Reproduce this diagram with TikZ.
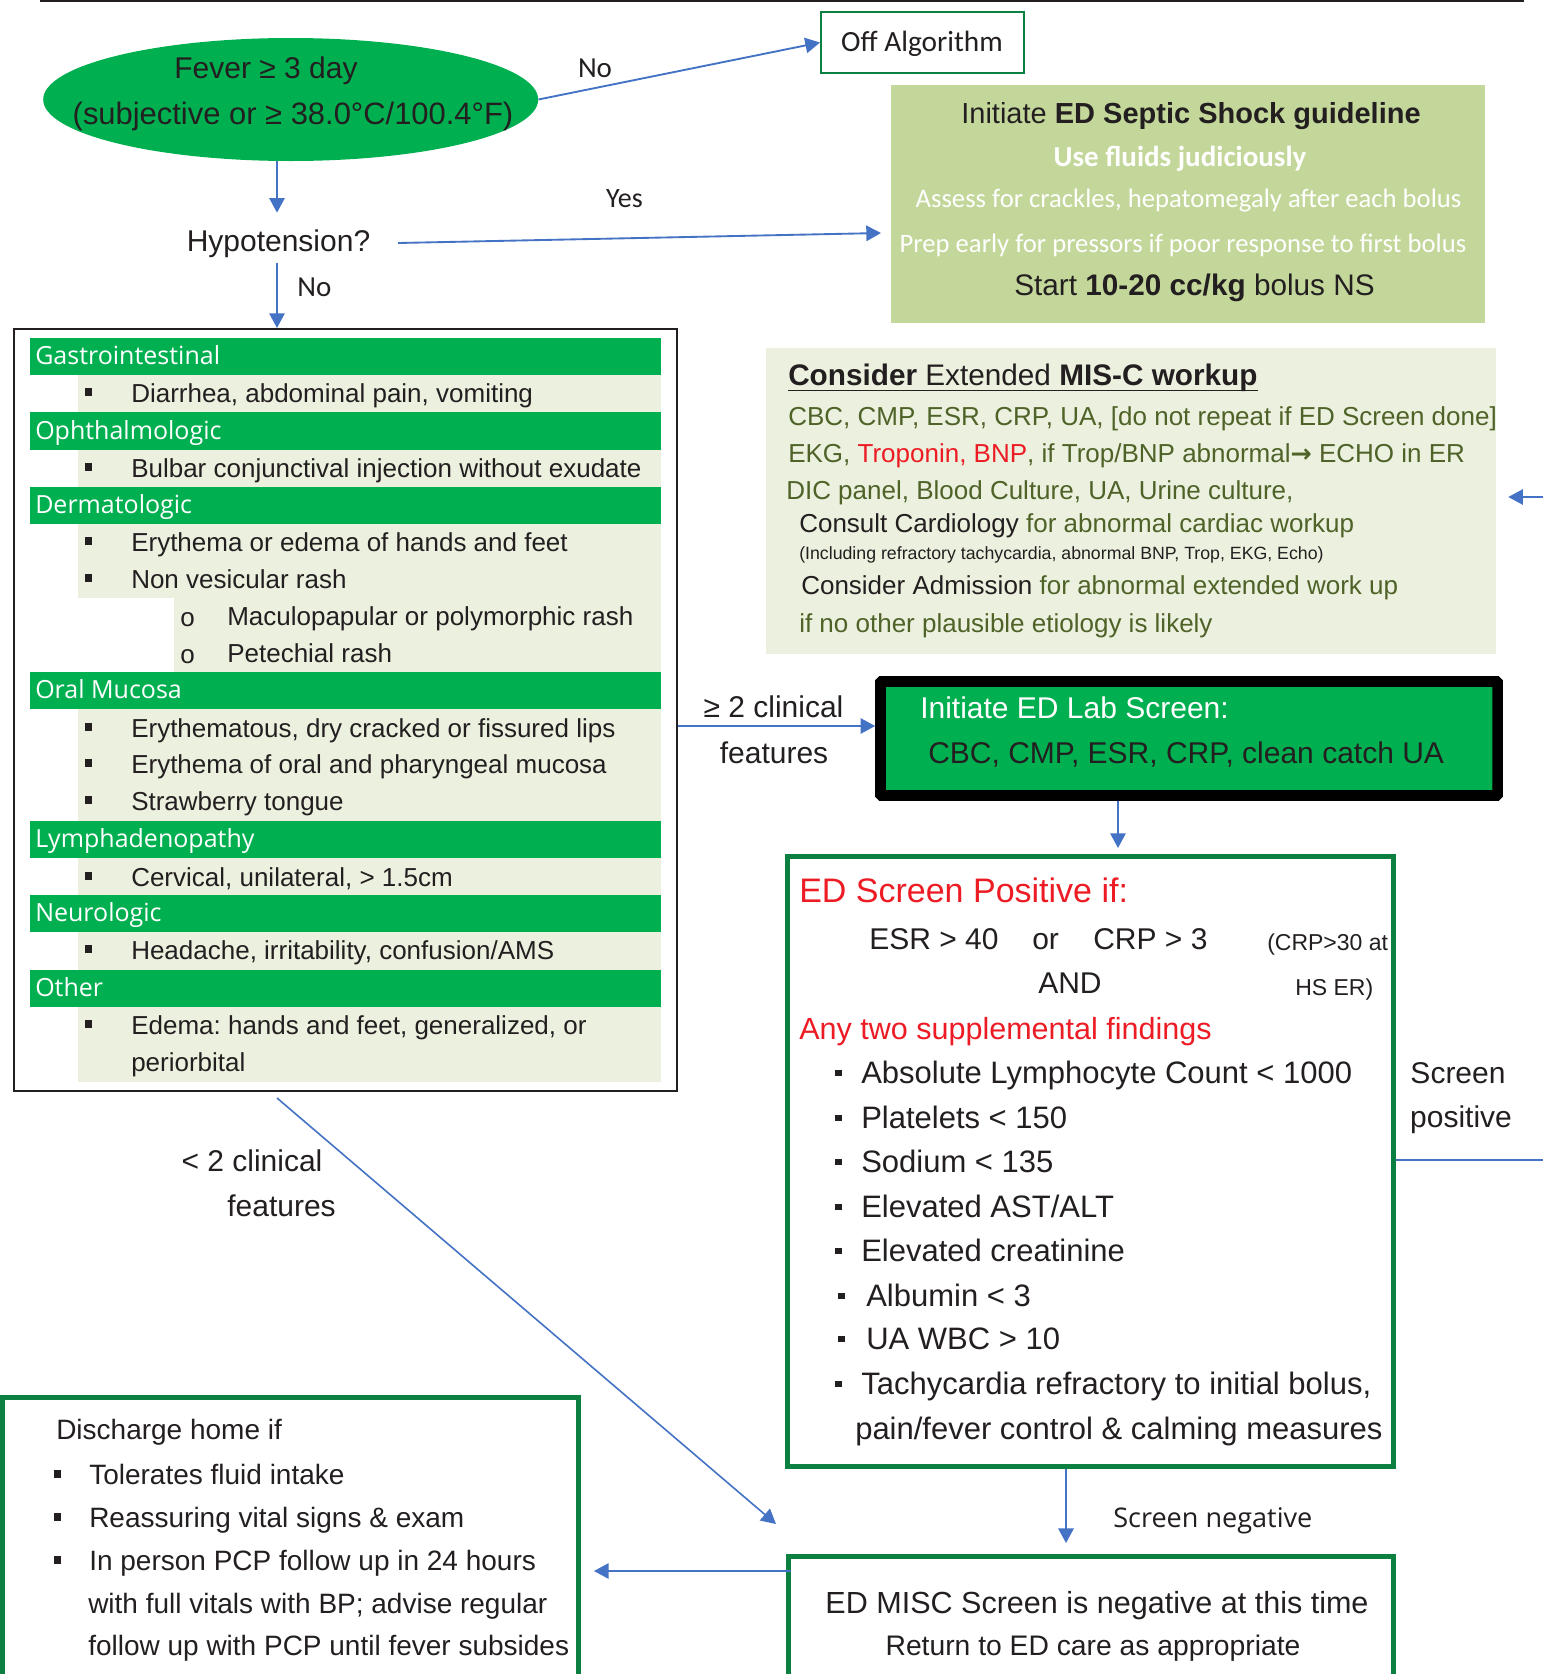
\documentclass[tikz,border=0pt]{standalone}
\usepackage{fontspec}
\setmainfont{Liberation Sans}
\newfontfamily\carl{Carlito}
\newfontfamily\osans{Open Sans}
\newfontfamily\djv{DejaVu Sans}
\usetikzlibrary{shapes.geometric,fit,arrows.meta,calc}
\frenchspacing

\definecolor{ink}{HTML}{231F20}
\definecolor{grn}{HTML}{00B050}
\definecolor{dgrn}{HTML}{0B8040}
\definecolor{sept}{HTML}{C4D79B}
\definecolor{pale}{HTML}{EBF1DE}
\definecolor{olive}{HTML}{4F6228}
\definecolor{redt}{HTML}{ED1C24}
\definecolor{blu}{HTML}{4472C4}

\begin{document}
\begin{tikzpicture}[x=0.75pt,y=-0.75pt,
  every node/.style={inner sep=0pt, text depth=0pt, text=ink},
  L/.style={anchor=west},
  t30/.style={font=\fontsize{22.5}{27}\selectfont, text height=16.1pt},
  t29/.style={font=\fontsize{21.75}{26}\selectfont, text height=15.6pt},
  t28/.style={font=\fontsize{21}{25}\selectfont, text height=15pt},
  t26/.style={font=\fontsize{19.5}{23}\selectfont, text height=14pt},
  t31/.style={font=\fontsize{23.25}{28}\selectfont, text height=16.6pt},
  t34/.style={font=\fontsize{25.5}{30}\selectfont, text height=18.3pt},
  t23/.style={font=\fontsize{17.25}{21}\selectfont, text height=12.4pt},
  t18/.style={font=\fontsize{13.3}{16}\selectfont, text height=9.5pt},
  c22/.style={font=\carl\fontsize{22}{26}\selectfont, text height=14.2pt},
  c29/.style={font=\carl\fontsize{21.75}{26}\selectfont, text height=14pt},
  c28/.style={font=\carl\fontsize{21}{25}\selectfont, text height=13.5pt},
  c22b/.style={font=\carl\bfseries\fontsize{21.75}{26}\selectfont, text height=14pt},
  c20/.style={font=\carl\fontsize{20}{24}\selectfont, text height=12.9pt},
  o19/.style={font=\osans\fontsize{18.75}{22}\selectfont, text height=13.4pt},
  o20/.style={font=\osans\fontsize{20.3}{24}\selectfont, text height=14.5pt},
  hdr/.style={o19, L, text=white},
  item/.style={t26, L},
  sq/.style={fill=ink, minimum size=5.3pt},
  sqs/.style={fill=ink, minimum size=4.8pt},
  arr/.style={draw=blu, line width=1.4pt, -{Triangle[length=11pt,width=11.5pt]}},
  link/.style={draw=blu, line width=1.4pt},
  greenbox/.style={draw=dgrn, line width=3.75pt},
]
\useasboundingbox (0,0) rectangle (1543,1674);
\fill[white] (0,0) rectangle (1543,1674);

% top rule
\draw[ink, line width=2pt] (40,1) -- (1524,1);

% ---------- fever / hypotension ----------
\node[ellipse, fill=grn, minimum width=371.25pt, minimum height=92.25pt] (fever) at (290.7,99.5) {};
\node[t30] (fever1) at (266,68) {Fever ≥ 3 day};
\node[font=\fontsize{23.2}{28}\selectfont, text height=16.6pt] (fever2) at (293,113) {(subjective or ≥ 38.0°C/100.4°F)};

\node[draw=dgrn, line width=1.5pt, fit={(821,12) (1024,73)}] (off) {};
\node[c22] (offT) at (922,42) {Off Algorithm};

\node[t30] (hypo) at (278.5,241) {Hypotension?};

\node[c29] (noTop) at (595,68) {No};
\node[c28] (yesLbl) at (624.5,198) {Yes};
\node[c29] (noBot) at (314.5,287) {No};

% ---------- septic shock ----------
\node[fill=sept, fit={(891,85) (1485,323)}] (septic) {};
\node[t29] (sep1) at (1191,113) {Initiate \textbf{ED Septic Shock guideline}};
\node[c22b, text=white] (sep2) at (1180,157) {Use fluids judiciously};
\node[c20, text=white] (sep3) at (1188.5,199) {Assess for crackles, hepatomegaly after each bolus};
\node[c20, text=white] (sep4) at (1183,244) {Prep early for pressors if poor response to first bolus};
\node[font=\fontsize{22.3}{27}\selectfont, text height=16pt] (sep5) at (1194.5,285) {Start \textbf{10-20 cc/kg} bolus NS};

% ---------- extended MIS-C workup ----------
\node[fill=pale, fit={(766,348) (1496,654)}] (misc) {};
\node[font=\fontsize{22.3}{27}\selectfont, text height=16pt, L] (mh) at (788,375)
  {\textbf{Consider} Extended \textbf{MIS-C workup}};
\draw[ink, line width=1.3pt] ([yshift=-3.7pt]mh.base west) -- ([yshift=-3.7pt]mh.base east);
\node[t26, L, text=olive] (m1) at (788,416) {CBC, CMP, ESR, CRP, UA, [do not repeat if ED Screen done]};
\node[t26, L, text=olive] (m2) at (788,453) {EKG, {\color{redt}Troponin, BNP}, if Trop/BNP abnormal{\djv\fontsize{19}{23}\selectfont\bfseries →} ECHO in ER};
\node[t26, L, text=olive] (m3) at (786,490) {DIC panel, Blood Culture, UA, Urine culture,};
\node[t26, L, text=olive] (m4) at (799,523) {{\color{ink}Consult Cardiology} for abnormal cardiac workup};
\node[t18, L] (m5) at (799,553) {(Including refractory tachycardia, abnormal BNP, Trop, EKG, Echo)};
\node[t26, L, text=olive] (m6) at (801,585) {{\color{ink}Consider Admission} for abnormal extended work up};
\node[t26, L, text=olive] (m7) at (799,623) {if no other plausible etiology is likely};

% ---------- clinical features ----------
\fill[grn]  (30,338)  rectangle (661,375);
\fill[pale] (78,375)  rectangle (661,412);
\fill[grn]  (30,412)  rectangle (661,450);
\fill[pale] (78,450)  rectangle (661,487);
\fill[grn]  (30,487)  rectangle (661,524);
\fill[pale] (78,524)  rectangle (661,598);
\fill[pale] (174,598) rectangle (661,672);
\fill[grn]  (30,672)  rectangle (661,709);
\fill[pale] (78,709)  rectangle (661,821);
\fill[grn]  (30,821)  rectangle (661,858);
\fill[pale] (78,858)  rectangle (661,895);
\fill[grn]  (30,895)  rectangle (661,932);
\fill[pale] (78,932)  rectangle (661,970);
\fill[grn]  (30,970)  rectangle (661,1007);
\fill[pale] (78,1007) rectangle (661,1082);
\node[draw=ink, line width=1.5pt, fit={(14,329) (677,1091)}] (crit) {};

\node[hdr] (hGI) at (35,356) {Gastrointestinal};
\node[sq] (bGI) at (88.5,392) {};
\node[item] (iGI) at (131,393) {Diarrhea, abdominal pain, vomiting};

\node[hdr] (hOph) at (35,431) {Ophthalmologic};
\node[sq] (bOph) at (88.5,467) {};
\node[item] (iOph) at (131,468) {Bulbar conjunctival injection without exudate};

\node[hdr] (hDer) at (35,505) {Dermatologic};
\node[sq] (bDer1) at (88.5,541) {};
\node[item] (iDer1) at (131,542) {Erythema or edema of hands and feet};
\node[sq] (bDer2) at (88.5,578) {};
\node[item] (iDer2) at (131,579) {Non vesicular rash};
\node[item] (oDer3) at (180,617) {o};
\node[item] (iDer3) at (227,616) {Maculopapular or polymorphic rash};
\node[item] (oDer4) at (180,654) {o};
\node[item] (iDer4) at (227,653) {Petechial rash};

\node[hdr] (hOra) at (35,690) {Oral Mucosa};
\node[sq] (bOra1) at (88.5,727) {};
\node[item] (iOra1) at (131,728) {Erythematous, dry cracked or fissured lips};
\node[sq] (bOra2) at (88.5,763) {};
\node[item] (iOra2) at (131,764) {Erythema of oral and pharyngeal mucosa};
\node[sq] (bOra3) at (88.5,800) {};
\node[item] (iOra3) at (131,801) {Strawberry tongue};

\node[hdr] (hLym) at (35,839) {Lymphadenopathy};
\node[sq] (bLym) at (88.5,876) {};
\node[item] (iLym) at (131,877) {Cervical, unilateral, > 1.5cm};

\node[hdr] (hNeu) at (35,913) {Neurologic};
\node[sq] (bNeu) at (88.5,949) {};
\node[item] (iNeu) at (131,950) {Headache, irritability, confusion/AMS};

\node[hdr] (hOth) at (35,988) {Other};
\node[sq] (bOth) at (88.5,1024) {};
\node[item] (iOth1) at (131,1025) {Edema: hands and feet, generalized, or};
\node[item] (iOth2) at (131,1062) {periorbital};

% ---------- lab screen ----------
\node[draw=black, line width=7.9pt, fill=grn, rounded corners=0.6pt, fit={(880.5,681.5) (1497.5,795.5)}] (lab) {};
\node[t30, L, text=white] (lab1) at (920,708) {Initiate ED Lab Screen:};
\node[t30, L] (lab2) at (928,753) {CBC, CMP, ESR, CRP, clean catch UA};

\node[t30] (ge1) at (773.5,707) {≥ 2 clinical};
\node[t30] (ge2) at (774,753) {features};

% ---------- screen positive criteria ----------
\node[greenbox, fit={(787.5,856.5) (1393.5,1466.5)}] (pos) {};
\node[t34, L, text=redt] (posH) at (799,890) {ED Screen Positive if:};
\node[t30, L] (esr) at (869,939) {ESR > 40};
\node[t30, L] (orT) at (1032,939) {or};
\node[t30, L] (crp) at (1093,939) {CRP > 3};
\node[t23, L] (crp30) at (1267,942) {(CRP>30 at};
\node[t30, L] (andT) at (1038,983) {AND};
\node[t23, L] (hser) at (1295,987) {HS ER)};
\node[font=\fontsize{22.9}{27}\selectfont, text height=16.4pt, L, text=redt] (anyTwo) at (799,1029) {Any two supplemental findings};
\node[sqs] (p1b) at (838.5,1073) {};
\node[t31, L] (p1) at (861,1072) {Absolute Lymphocyte Count < 1000};
\node[sqs] (p2b) at (838.5,1118) {};
\node[t31, L] (p2) at (861,1117) {Platelets < 150};
\node[sqs] (p3b) at (838.5,1162) {};
\node[t31, L] (p3) at (861,1161) {Sodium < 135};
\node[sqs] (p4b) at (838.5,1207) {};
\node[t31, L] (p4) at (861,1206) {Elevated AST/ALT};
\node[sqs] (p5b) at (838.5,1251) {};
\node[t31, L] (p5) at (861,1250) {Elevated creatinine};
\node[sqs] (p6b) at (841.5,1296) {};
\node[t31, L] (p6) at (866,1295) {Albumin < 3};
\node[sqs] (p7b) at (841.5,1339) {};
\node[t31, L] (p7) at (866,1338) {UA WBC > 10};
\node[sqs] (p8b) at (838.5,1384) {};
\node[t31, L] (p8) at (861,1383) {Tachycardia refractory to initial bolus,};
\node[t31, L] (p9) at (855,1428) {pain/fever control \& calming measures};

\node[t30] (sp1) at (1458,1073) {Screen};
\node[t30] (sp2) at (1461,1117) {positive};

% ---------- screen negative / discharge ----------
\node[greenbox, fit={(788.5,1556.5) (1393.5,1720)}] (neg) {};
\node[font=\fontsize{22.9}{27}\selectfont, text height=16.4pt] (neg1) at (1097,1603) {ED MISC Screen is negative at this time};
\node[font=\fontsize{21.2}{25}\selectfont, text height=15.2pt] (neg2) at (1093,1645) {Return to ED care as appropriate};
\node[o20, L] (snl) at (1113,1518) {Screen negative};

\node[greenbox, fit={(2.5,1397.5) (578.5,1720)}] (home) {};
\node[t28, L] (h0) at (56,1429) {Discharge home if};
\node[sq] (h1b) at (57.5,1474) {};
\node[t28, L] (h1) at (89,1474) {Tolerates fluid intake};
\node[sq] (h2b) at (57.5,1517) {};
\node[t28, L] (h2) at (89,1517) {Reassuring vital signs \& exam};
\node[sq] (h3b) at (57.5,1560) {};
\node[t28, L] (h3) at (89,1560) {In person PCP follow up in 24 hours};
\node[t28, L] (h4) at (88,1603) {with full vitals with BP; advise regular};
\node[t28, L] (h5) at (88,1645) {follow up with PCP until fever subsides};

\node[t30] (lt1) at (252,1161) {< 2 clinical};
\node[t30] (lt2) at (281.5,1206) {features};

% ---------- connectors ----------
\coordinate (yesStart) at (398,243);
\coordinate (yesEnd) at (881,233);
\coordinate (noStart) at (277,263);
\coordinate (gtwoY) at (0,726);
\coordinate (dropX) at (1118,0);
\coordinate (negX) at (1066,0);
\coordinate (homeY) at (0,1571);
\coordinate (fewStart) at (277,1098);
\coordinate (fewEnd) at (776,1524);
\coordinate (posY) at (0,1160);
\coordinate (posOut) at (1543,1160);
\coordinate (miscIn) at (1543,497);

\draw[arr] (fever.east) -- (off.west);
\draw[arr, shorten >=13pt] (fever.south -| noStart) -- (hypo.north -| noStart);
\draw[arr] (yesStart) -- (yesEnd);
\draw[arr] (noStart) -- (noStart |- crit.north);
\draw[arr] (crit.east |- gtwoY) -- (lab.west |- gtwoY);
\draw[arr, shorten >=4.5pt] (dropX |- lab.south) -- (dropX |- pos.north);
\draw[arr, shorten >=8.2pt] (negX |- pos.south) -- (negX |- neg.north);
\draw[arr, shorten <=-4pt, shorten >=9.7pt] (neg.west |- homeY) -- (home.east |- homeY);
\draw[arr, line width=1.2pt] (fewStart) -- (fewEnd);
\draw[link] (pos.east |- posY) -- (posOut);
\draw[arr, shorten >=9pt] (miscIn) -- (misc.east |- miscIn);
\end{tikzpicture}
\end{document}
